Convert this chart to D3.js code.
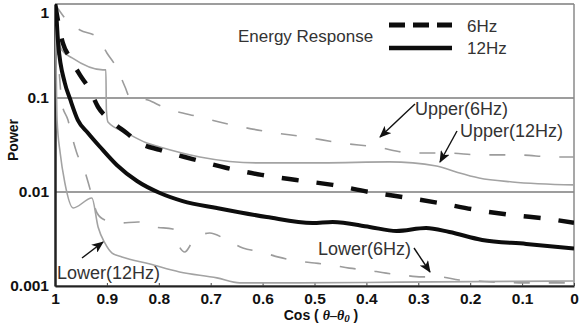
<!DOCTYPE html>
<html>
<head>
<meta charset="utf-8">
<script src="https://cdn.jsdelivr.net/npm/d3@7"></script>
<style>
  body { margin: 0; background: #fff; }
  svg { display: block; }
  .tick text { font-family: "Liberation Sans", Arial, sans-serif; font-weight: bold; font-size: 15.5px; fill: #111; }
  .note { font-family: "Liberation Sans", Arial, sans-serif; font-size: 17px; fill: #333; }
  .ann { font-family: "Liberation Sans", Arial, sans-serif; font-size: 18px; fill: #333; }
</style>
</head>
<body>
<div id="chart"></div>
<script>
// data (x = cos(theta - theta0), y = power)
const xTicks = [1, 0.9, 0.8, 0.7, 0.6, 0.5, 0.4, 0.3, 0.2, 0.1, 0];
const xTickLabels = ["1", "0.9", "0.8", "0.7", "0.6", "0.5", "0.4", "0.3", "0.2", "0.1", "0"];
const yTicks = [1, 0.1, 0.01, 0.001];
const yTickLabels = ["1", "0.1", "0.01", "0.001"];

// 12Hz energy response (solid)
const cos12 = [1, 0.997, 0.994, 0.981, 0.971, 0.956, 0.9365, 0.913, 0.881, 0.842, 0.798, 0.754, 0.688, 0.592, 0.504, 0.465, 0.394, 0.342, 0.285, 0.24, 0.177, 0.092, 0];
const pow12 = [1, 0.7, 0.385, 0.144, 0.0977, 0.0583, 0.0425, 0.0301, 0.0194, 0.0131, 0.00976, 0.00801, 0.00676, 0.00542, 0.00468, 0.0048, 0.00425, 0.00385, 0.00414, 0.00375, 0.00309, 0.0028, 0.0025];

// 6Hz energy response (dashed)
const cos6 = [1, 0.985, 0.971, 0.952, 0.933, 0.917, 0.894, 0.862, 0.837, 0.798, 0.735, 0.669, 0.602, 0.535, 0.465, 0.394, 0.331, 0.26, 0.188, 0.119, 0.048, 0];
const pow6 = [1, 0.385, 0.267, 0.176, 0.122, 0.0802, 0.0583, 0.0425, 0.0332, 0.028, 0.0224, 0.018, 0.0152, 0.0134, 0.0119, 0.01, 0.00885, 0.00764, 0.00644, 0.00569, 0.00516, 0.0047];

// Upper(6Hz) bound (gray dashed)
const cosUp6 = [1, 0.981, 0.952, 0.919, 0.9, 0.881, 0.865, 0.856, 0.821, 0.792, 0.721, 0.658, 0.587, 0.519, 0.448, 0.381, 0.312, 0.246, 0.179, 0.112, 0.035, 0];
const powUp6 = [1, 0.71, 0.529, 0.446, 0.301, 0.209, 0.131, 0.102, 0.0952, 0.0802, 0.0628, 0.0516, 0.0435, 0.0385, 0.0332, 0.0301, 0.026, 0.026, 0.0248, 0.0248, 0.0236, 0.0236];

// Upper(12Hz) bound (gray solid)
const cosUp12 = [1, 0.996, 0.987, 0.967, 0.908, 0.902, 0.901, 0.898, 0.862, 0.823, 0.798, 0.721, 0.612, 0.485, 0.356, 0.265, 0.227, 0.183, 0.119, 0];
const powUp12 = [1, 0.569, 0.324, 0.267, 0.199, 0.199, 0.0745, 0.0556, 0.0425, 0.0332, 0.0301, 0.0236, 0.0204, 0.0204, 0.0209, 0.0189, 0.0163, 0.0141, 0.0128, 0.0119];

// Lower(6Hz) bound (gray dashed)
const cosLo6 = [1, 0.99, 0.987, 0.975, 0.967, 0.958, 0.942, 0.933, 0.919, 0.904, 0.875, 0.84, 0.808, 0.773, 0.76, 0.75, 0.735, 0.702, 0.669, 0.638, 0.602, 0.571, 0.535, 0.5, 0.467, 0.433, 0.4, 0.362, 0.331, 0.294, 0.26, 0.221, 0.188, 0.106, 0];
const powLo6 = [1, 0.137, 0.0885, 0.0583, 0.0385, 0.026, 0.0163, 0.011, 0.00598, 0.00504, 0.00468, 0.0048, 0.00425, 0.00404, 0.0026, 0.0023, 0.00294, 0.00366, 0.00309, 0.00254, 0.0023, 0.00204, 0.00185, 0.00176, 0.00167, 0.00155, 0.00148, 0.00137, 0.00131, 0.00125, 0.00125, 0.00116, 0.00113, 0.00108, 0.00108];

// Lower(12Hz) bound (gray solid)
const cosLo12 = [1, 0.998, 0.996, 0.99, 0.981, 0.965, 0.929, 0.917, 0.904, 0.89, 0.871, 0.817, 0.76, 0.688, 0.644, 0.529, 0.337, 0];
const powLo12 = [1, 0.254, 0.0583, 0.026, 0.0125, 0.00676, 0.00863, 0.00425, 0.00287, 0.00224, 0.00204, 0.00171, 0.00141, 0.00122, 0.00108, 0.00108, 0.0011, 0.00113];

const W = 579, H = 329;
const pLeft = 55, pRight = 574, pTop = 4, pBottom = 286;

const svg = d3.select("#chart").append("svg")
  .attr("width", W)
  .attr("height", H);

const x = d3.scaleLinear().domain([1, 0]).range([pLeft, pRight]);
const y = d3.scaleLog().domain([0.001, 1]).range([pBottom, pTop]);

const defs = svg.append("defs");
defs.append("clipPath").attr("id", "plot")
  .append("rect")
  .attr("x", pLeft).attr("y", pTop)
  .attr("width", pRight - pLeft).attr("height", pBottom - pTop);

const arrow = defs.append("marker")
  .attr("id", "arr")
  .attr("viewBox", "0 0 12 10")
  .attr("refX", 11).attr("refY", 5)
  .attr("markerWidth", 12).attr("markerHeight", 10)
  .attr("markerUnits", "userSpaceOnUse")
  .attr("orient", "auto");
arrow.append("path").attr("d", "M0,0 L12,5 L0,10 L3,5 Z").attr("fill", "#111");

// grid lines
svg.append("g")
  .selectAll("line")
  .data(yTicks)
  .enter()
  .append("line")
  .attr("x1", pLeft).attr("x2", pRight)
  .attr("y1", d => y(d)).attr("y2", d => y(d))
  .attr("stroke", "#7d7d7d")
  .attr("stroke-width", 1.3);

// right border
svg.append("line")
  .attr("x1", pRight).attr("x2", pRight)
  .attr("y1", pTop).attr("y2", pBottom)
  .attr("stroke", "#8a8a8a")
  .attr("stroke-width", 1.5);

// axes
const xAxis = d3.axisBottom(x)
  .tickValues(xTicks)
  .tickFormat((d, i) => xTickLabels[i])
  .tickSizeInner(-3)
  .tickSizeOuter(0)
  .tickPadding(7);

const gx = svg.append("g")
  .attr("transform", "translate(0," + pBottom + ")")
  .call(xAxis);
gx.select(".domain").attr("stroke", "#222").attr("stroke-width", 2);
gx.selectAll(".tick line").attr("stroke", "#444");

const yAxis = d3.axisLeft(y)
  .tickValues(yTicks)
  .tickFormat((d, i) => yTickLabels[i])
  .tickSize(0)
  .tickPadding(6);

const gy = svg.append("g")
  .attr("transform", "translate(" + pLeft + ",0)")
  .call(yAxis);
gy.select(".domain").attr("stroke", "#222").attr("stroke-width", 2.5);
gy.selectAll(".tick text").attr("dy", "0.32em");
gy.selectAll(".tick").filter(d => d === 1).select("text").attr("dy", "0.85em");

// curves
const line = d3.line()
  .x(d => x(d[0]))
  .y(d => y(d[1]))
  .curve(d3.curveMonotoneX);

const zip = (a, b) => a.map((v, i) => [v, b[i]]);

const curves = [
  { c: cosUp6, p: powUp6, color: "#9c9c9c", w: 1.6, dash: "16,19" },
  { c: cosLo6, p: powLo6, color: "#9c9c9c", w: 1.6, dash: "16,19" },
  { c: cosUp12, p: powUp12, color: "#a3a3a3", w: 1.6, dash: null },
  { c: cosLo12, p: powLo12, color: "#a3a3a3", w: 1.6, dash: null },
  { c: cos6, p: pow6, color: "#0d0d0d", w: 4.5, dash: "17,18" },
  { c: cos12, p: pow12, color: "#0d0d0d", w: 4, dash: null }
];

const plotG = svg.append("g").attr("clip-path", "url(#plot)");
plotG.selectAll("path")
  .data(curves)
  .enter()
  .append("path")
  .attr("d", d => line(zip(d.c, d.p)))
  .attr("fill", "none")
  .attr("stroke", d => d.color)
  .attr("stroke-width", d => d.w)
  .attr("stroke-dasharray", d => d.dash);

// legend
svg.append("text").attr("class", "note")
  .attr("x", 238).attr("y", 42).text("Energy Response");
svg.append("line")
  .attr("x1", 389).attr("x2", 452).attr("y1", 25).attr("y2", 25)
  .attr("stroke", "#0d0d0d").attr("stroke-width", 5)
  .attr("stroke-dasharray", "16,8");
svg.append("line")
  .attr("x1", 389).attr("x2", 452).attr("y1", 48).attr("y2", 48)
  .attr("stroke", "#0d0d0d").attr("stroke-width", 4.5);
svg.append("text").attr("class", "note")
  .attr("x", 467).attr("y", 32).text("6Hz");
svg.append("text").attr("class", "note")
  .attr("x", 467).attr("y", 54).text("12Hz");

// annotations
const notes = [
  { t: "Upper(6Hz)", tx: 415, ty: 115, x1: 415, y1: 104, x2: 380, y2: 137 },
  { t: "Upper(12Hz)", tx: 460, ty: 137, x1: 457, y1: 131, x2: 440, y2: 162 },
  { t: "Lower(6Hz)", tx: 318, ty: 255, x1: 414, y1: 248, x2: 430, y2: 272 },
  { t: "Lower(12Hz)", tx: 57, ty: 279, x1: 82, y1: 258, x2: 103, y2: 242 }
];
notes.forEach(n => {
  svg.append("text").attr("class", "ann")
    .attr("x", n.tx).attr("y", n.ty).text(n.t);
  svg.append("line")
    .attr("x1", n.x1).attr("y1", n.y1).attr("x2", n.x2).attr("y2", n.y2)
    .attr("stroke", "#111").attr("stroke-width", 1.4)
    .attr("marker-end", "url(#arr)");
});

// axis titles
svg.append("text")
  .attr("transform", "translate(18,140) rotate(-90)")
  .attr("text-anchor", "middle")
  .style("font-family", "Liberation Sans, Arial, sans-serif")
  .style("font-weight", "bold")
  .style("font-size", "14px")
  .attr("fill", "#111")
  .text("Power");

const xt = svg.append("text")
  .attr("x", 321).attr("y", 320)
  .attr("text-anchor", "middle")
  .style("font-family", "Liberation Sans, Arial, sans-serif")
  .style("font-weight", "bold")
  .style("font-size", "14px")
  .attr("fill", "#111");
xt.append("tspan").text("Cos ( ");
xt.append("tspan").style("font-style", "italic").style("font-family", "Liberation Serif, serif").text("θ–θ");
xt.append("tspan").style("font-style", "italic").style("font-family", "Liberation Serif, serif").style("font-size", "11px").attr("dy", 2).text("0");
xt.append("tspan").attr("dy", -2).text(" )");
</script>
</body>
</html>
